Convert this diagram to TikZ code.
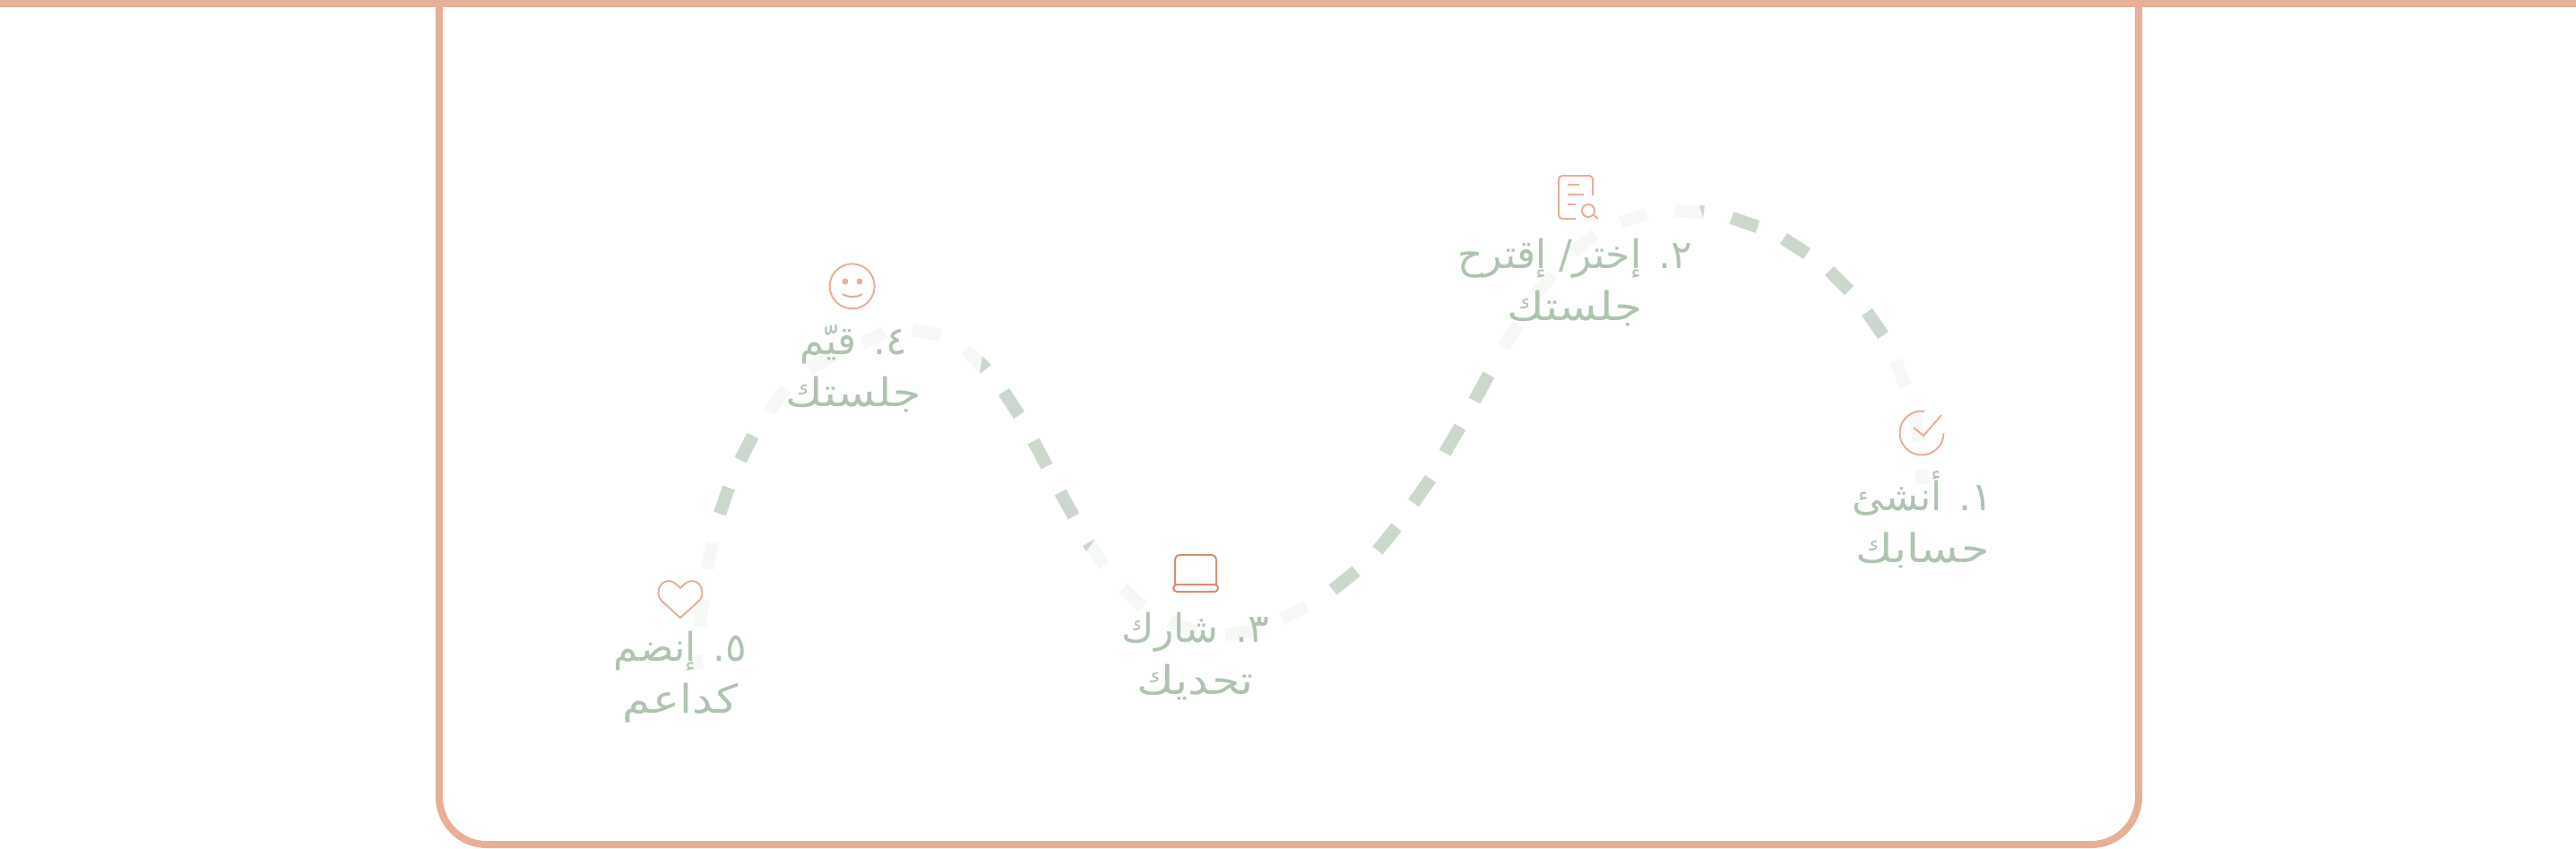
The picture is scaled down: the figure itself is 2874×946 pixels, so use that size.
\documentclass[tikz,border=0pt]{standalone}
\usepackage{fontspec}
\TeXXeTstate=1
\newfontfamily\arabicfont[Script=Arabic]{DejaVu Sans}
\newfontfamily\arabicwide[Script=Arabic,FakeStretch=1.15]{DejaVu Sans}
\definecolor{framecol}{HTML}{E8AE98}
\definecolor{lapcol}{HTML}{D98D70}
\definecolor{darkcol}{HTML}{CCD8CC}
\definecolor{lightcol}{HTML}{F5F8F5}
\definecolor{textcol}{HTML}{AEC4AE}
\tikzset{
  framebar/.style={draw=framecol,line width=2pt},
  darkdash/.style={draw=darkcol,line width=3.6pt},
  lightdash/.style={draw=lightcol,line width=3.6pt},
  iconline/.style={draw=framecol,line width=0.5pt},
  lapline/.style={draw=lapcol,line width=0.5pt},
  steplabel/.style={font=\arabicfont\fontsize{11}{14.4}\selectfont,text=textcol,align=center,inner sep=0pt},
}
\begin{document}
\begin{tikzpicture}[x=0.25pt,y=0.25pt,yscale=-1,xscale=1]
\useasboundingbox (0,0) rectangle (2874,946);

%Frame
\draw [framebar] (0,4) -- (2874,4) ;
\draw [framebar] (490,0) -- (490,889) arc (180:90:53) -- (2333,942) arc (90:0:53) -- (2386,0) ;

%Light dashes
\foreach \xa/\ya/\xb/\yb in {778/747/777/731,781/699/784/669,789/635/795/605,858/459/877/434,903/411/933/395,
    962/383/987/371,1018/368/1049/374,1077/390/1100/412,1215/605/1232/631,1253/656/1275/677,1305/692/1334/705,
    1367/708/1399/704,1430/690/1458/676,1677/388/1694/362,1712/330/1732/306,1755/281/1780/261,1808/248/1837/239,
    1869/235/1901/237,2115/402/2126/431,2136/462/2141/492,2144/524/2144/540}
  \draw [lightdash] (\xa,\ya) -- (\xb,\yb) ;

%Dark dashes
\foreach \xa/\ya/\xb/\yb in {803/573/813/544,826/513/840/486,1120/437/1137/463,1153/492/1168/520,1183/549/1198/576,
    1487/658/1513/637,1537/614/1558/588,1577/561/1596/534,1612/505/1629/476,1645/447/1661/418,
    1932/243/1961/253,1990/266/2016/283,2041/302/2063/324,2083/348/2101/374}
  \draw [darkdash] (\xa,\ya) -- (\xb,\yb) ;

%Dark tips
\fill [darkcol] (1096,397) -- (1106,407) -- (1093,417) -- cycle ;
\fill [darkcol] (1222,601) -- (1208,609) -- (1212,615) -- cycle ;
\fill [darkcol] (1896,229) -- (1902,229) -- (1900,243) -- cycle ;

%Check icon
\draw [iconline] (2168.5,483) arc (0:277:24.5) ;
\draw [iconline] (2135,477) -- (2146,486) -- (2166,463) ;
%Document icon
\draw [iconline] (1758,244) -- (1743,244) arc (90:180:4) -- (1739,200) arc (180:270:4) -- (1773,196) arc (270:360:4) -- (1777,218) ;
\draw [iconline] (1749,206) -- (1762,206) ;
\draw [iconline] (1749,217) -- (1767,217) ;
\draw [iconline] (1749,228) -- (1758,228) ;
\draw [iconline] (1772,235) circle [radius=7] ;
\draw [iconline] (1777,239) -- (1783,244) ;
%Laptop icon
\draw [lapline] (1311,652) -- (1311,624) arc (180:270:5) -- (1352,619) arc (270:360:5) -- (1357,652) ;
\draw [lapline] (1313,652) -- (1355,652) arc (-90:90:4) -- (1313,660) arc (90:270:4) -- cycle ;
%Smiley icon
\draw [iconline] (950.7,319.3) circle [radius=25] ;
\fill [framecol] (943,314) circle [radius=3.5] ;
\fill [framecol] (959,314) circle [radius=3.5] ;
\draw [iconline] (940,328) .. controls (946,332) and (956,332) .. (962,328) ;
%Heart icon
\draw [iconline, shift={(0,12)}] (759,644) .. controls (754,638) and (749,636) .. (746,636) .. controls (739,636) and (734.5,642) .. (734.5,649) .. controls (734.5,653) and (736,656) .. (739,659) -- (759,677) -- (779,659) .. controls (782,656) and (783.5,653) .. (783.5,649) .. controls (783.5,642) and (779,636) .. (772,636) .. controls (769,636) and (764,638) .. (759,644) -- cycle ;

% Text Node
\node [steplabel] (stepone) at (2145,580) {\beginR ١. أنشئ\endR\\\arabicwide\beginR حسابك\endR};
% Text Node
\node [steplabel] (steptwo) at (1757,315) {\beginR ٢. إختر/ إقترح\endR\\\arabicwide\beginR جلستك\endR};
% Text Node
\node [steplabel] (stepthree) at (1334,732) {\beginR ٣. شارك\endR\\\arabicwide\beginR تحديك\endR};
% Text Node
\node [steplabel] (stepfour) at (952,411) {\beginR ٤. قيّم\endR\\\arabicwide\beginR جلستك\endR};
% Text Node
\node [steplabel] (stepfive) at (759,755) {\beginR ٥. إنضم\endR\\\arabicwide\beginR كداعم\endR};

\end{tikzpicture}
\end{document}
